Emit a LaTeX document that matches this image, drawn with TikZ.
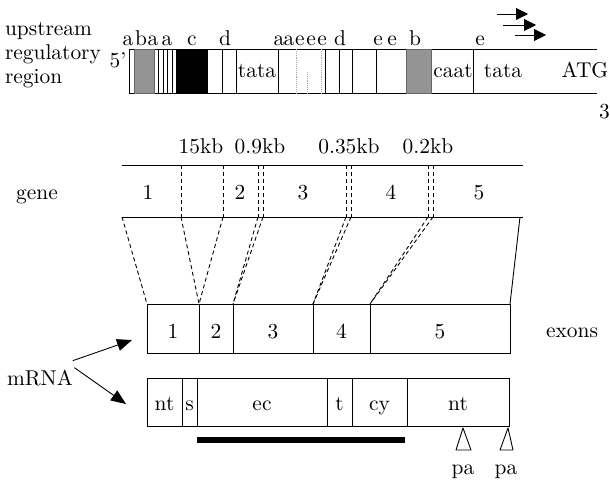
\documentclass[tikz,border=0pt]{standalone}
\usepackage{fontspec}
\setmainfont{lmroman10-regular}[Extension=.otf]
\usetikzlibrary{arrows.meta}
\begin{document}
\begin{tikzpicture}[x=1bp,y=-1bp,
  font=\fontsize{21.5}{24}\selectfont,
  every node/.style={inner sep=0pt, outer sep=0pt},
  rule/.style={line width=0.9bp},
  faint/.style={line width=0.9bp, draw=black!35, densely dotted},
  exon/.style={draw, line width=0.9bp, anchor=north west, minimum height=49bp,
    text height=19bp, text depth=0bp},
  part/.style={draw, line width=0.9bp, anchor=north west, minimum height=48bp,
    text height=16bp, text depth=0bp},
  lab/.style={anchor=base},
  intron/.style={line width=0.9bp, dash pattern=on 4bp off 3bp},
  pointer/.style={line width=0.9bp, -{Triangle[length=15bp,width=12bp]}},
  startsite/.style={line width=0.9bp, -{Triangle[length=12bp,width=12bp]}},
  stipple/.style={fill=black!42, draw=black!60, line width=0.6bp},
]
\useasboundingbox (0,0) rectangle (610,487);

% ---------- upstream regulatory region ----------
\node[anchor=base west] (up1) at (5,36) {upstream};
\node[anchor=base west] (up2) at (5,60) {regulatory};
\node[anchor=base west] (up3) at (5,84) {region};
\node[lab] (five) at (118,68) {5'};
\node[anchor=base west] (three) at (599,119) {3};

\draw[rule] (129,49) -- (597,49);
\draw[rule] (129,93) -- (597,93);
\filldraw[stipple] (134,49) rectangle (154,93);
\filldraw[stipple] (406,49) rectangle (431,93);
\fill[black] (176,49) rectangle (208,93);
\foreach \x in {129,158,163,167,172,222,236,278,325,339,352,376,473}
  \draw[rule] (\x,49) -- (\x,93);
\foreach \x in {296,321}
  \draw[faint] (\x,49) -- (\x,93);
\draw[faint] (307,72) -- (307,93);

\node[lab] (tataA) at (257,78) {tata};
\node[lab] (caat) at (453,78) {caat};
\node[lab] (tataB) at (503,78) {tata};
\node[lab] (atg) at (585,78) {ATG};

% element letters above the strip
\foreach \x/\t [count=\i] in {128/a,141/b,153/a,167/a,192/c,225/d,279/a,289/a,
    300/e,311/e,322/e,340/d,378/e,392/e,415/b,480/e}
  \node[lab] (el\i) at (\x,46) {\t};

% transcription start arrows
\coordinate (s1a) at (497,14); \coordinate (s1b) at (528,14);
\coordinate (s2a) at (503,25); \coordinate (s2b) at (536,25);
\coordinate (s3a) at (515,35); \coordinate (s3b) at (546,35);
\draw[startsite] (s1a) -- (s1b);
\draw[startsite] (s2a) -- (s2b);
\draw[startsite] (s3a) -- (s3b);

% ---------- gene ----------
\node[lab] (gene) at (37,200) {gene};
\draw[rule] (122,165) -- (523,165);
\draw[rule] (122,217) -- (523,217);
\foreach \x in {181,223,258,263,346,351,428,433}
  \draw[intron] (\x,165) -- (\x,217);
\node[lab] (gn1) at (148,200) {1};
\node[lab] (gn2) at (240,200) {2};
\node[lab] (gn3) at (303,200) {3};
\node[lab] (gn4) at (391,200) {4};
\node[lab] (gn5) at (479,200) {5};
\node[lab] (kb1) at (201,154) {15kb};
\node[lab] (kb2) at (260,154) {0.9kb};
\node[lab] (kb3) at (349,154) {0.35kb};
\node[lab] (kb4) at (428,154) {0.2kb};

\coordinate (g0) at (122,217);
\coordinate (g1a) at (181,217); \coordinate (g1b) at (223,217);
\coordinate (g2a) at (258,217); \coordinate (g2b) at (263,217);
\coordinate (g3a) at (346,217); \coordinate (g3b) at (351,217);
\coordinate (g4a) at (428,217); \coordinate (g4b) at (433,217);
\coordinate (g5) at (520,217);

% ---------- exons ----------
\node[exon, minimum width=52bp] (e1) at (147,304) {1};
\node[exon, minimum width=34bp] (e2) at (199,304) {2};
\node[exon, minimum width=80bp] (e3) at (233,304) {3};
\node[exon, minimum width=57bp] (e4) at (313,304) {4};
\node[exon, minimum width=140bp] (e5) at (370,304) {5};
\node[lab] (exons) at (572,337) {exons};

\draw[intron] (g0) -- (e1.north west);
\draw[intron] (g1a) -- (e2.north west);
\draw[intron] (g1b) -- (e2.north west);
\draw[intron] (g2a) -- (e3.north west);
\draw[intron] (g2b) -- (e3.north west);
\draw[intron] (g3a) -- (e4.north west);
\draw[intron] (g3b) -- (e4.north west);
\draw[intron] (g4a) -- (e5.north west);
\draw[intron] (g4b) -- (e5.north west);
\draw[rule] (g5) -- (e5.north east);

% ---------- mRNA domains ----------
\node[part, minimum width=35bp] (p1) at (147,378) {nt};
\node[part, minimum width=15bp] (p2) at (182,378) {s};
\node[part, minimum width=130bp] (p3) at (197,378) {ec};
\node[part, minimum width=25bp] (p4) at (327,378) {t};
\node[part, minimum width=55bp] (p5) at (352,378) {cy};
\node[part, minimum width=102bp] (p6) at (407,378) {nt};

\node[lab] (mrna) at (40,385) {mRNA};
\draw[pointer] ([yshift=9bp]mrna.north east) -- ([xshift=-15bp,yshift=-11.5bp]e1.west);
\draw[pointer] ([xshift=1.5bp,yshift=2bp]mrna.north east) -- ([xshift=-21bp,yshift=-2bp]p1.west);

% domain bar and polyadenylation sites
\draw[line width=6bp] (197,440) -- (405,440);
\draw[rule, line join=round] (463,428) -- (456,450) -- (471,450) -- cycle;
\draw[rule, line join=round] (508,428) -- (500,450) -- (513,450) -- cycle;
\node[lab] (pa1) at (463,474) {pa};
\node[lab] (pa2) at (506,474) {pa};
\end{tikzpicture}
\end{document}
